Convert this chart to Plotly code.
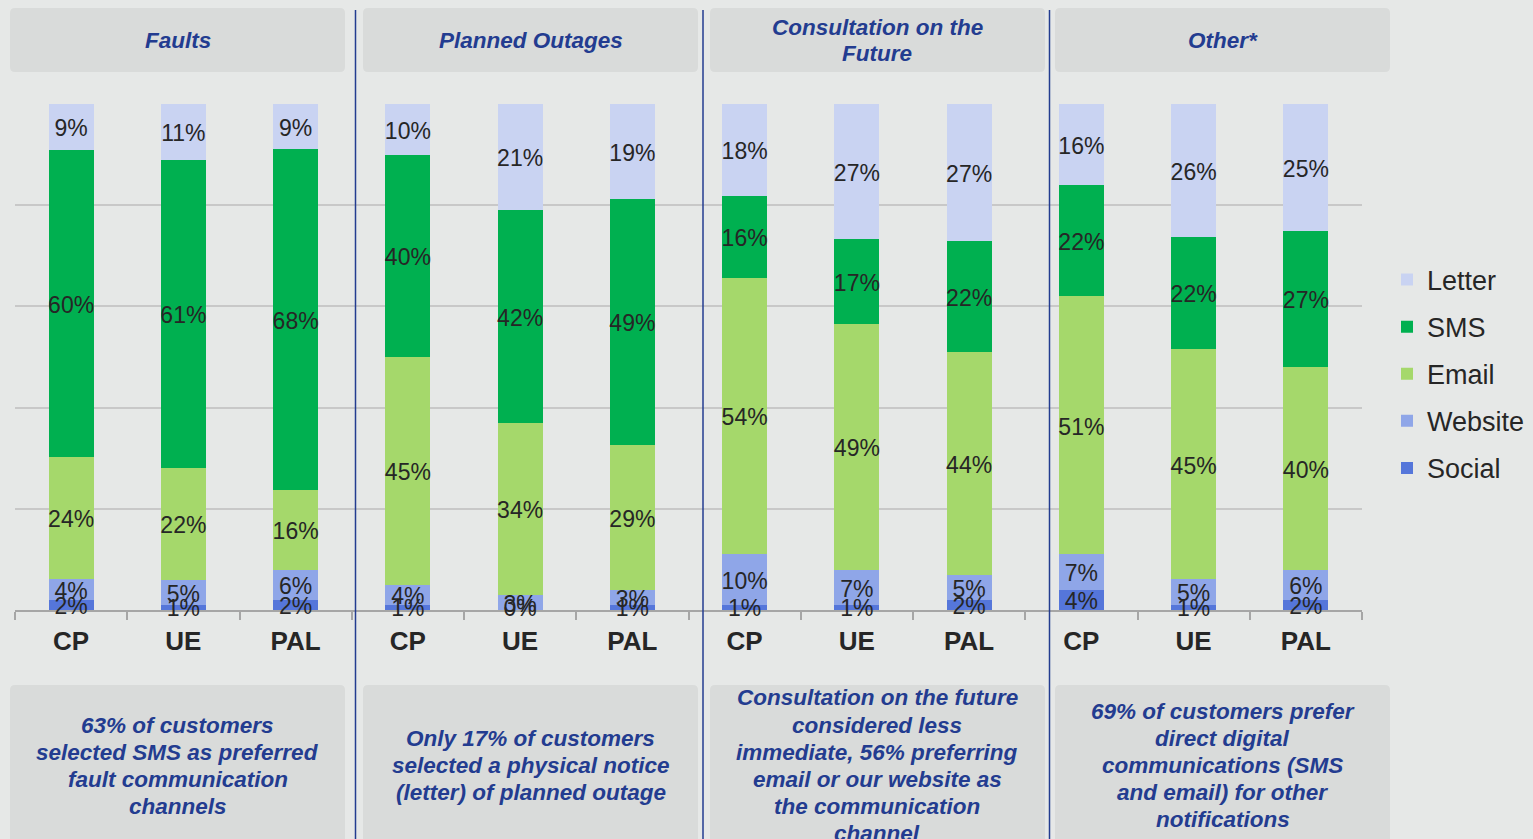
import numpy as np
import plotly.graph_objects as go

# ---------------- data ----------------
categories = ["CP", "UE", "PAL", "CP", "UE", "PAL", "CP", "UE", "PAL", "CP", "UE", "PAL"]
group_titles = [["Faults"], ["Planned Outages"], ["Consultation on the", "Future"], ["Other*"]]
social  = [2, 1, 2, 1, 0, 1, 1, 1, 2, 4, 1, 2]
website = [4, 5, 6, 4, 3, 3, 10, 7, 5, 7, 5, 6]
email   = [24, 22, 16, 45, 34, 29, 54, 49, 44, 51, 45, 40]
sms     = [60, 61, 68, 40, 42, 49, 16, 17, 22, 22, 22, 27]
letter  = [9, 11, 9, 10, 21, 19, 18, 27, 27, 16, 26, 25]
notes = [
    ["63% of customers", "selected SMS as preferred", "fault communication", "channels"],
    ["Only 17% of customers", "selected a physical notice", "(letter) of planned outage"],
    ["Consultation on the future", "considered less", "immediate, 56% preferring",
     "email or our website as", "the communication", "channel"],
    ["69% of customers prefer", "direct digital", "communications (SMS",
     "and email) for other", "notifications"],
]

series = [("Social", social, "#5576da"), ("Website", website, "#8fa6e8"),
          ("Email", email, "#a5d86b"), ("SMS", sms, "#00b050"),
          ("Letter", letter, "#c9d3f2")]

BG = "#e6e8e7"
BOX = "#d9dbda"
NAVY = "#233c90"
TXT = "#262626"
FONT = "Liberation Sans, Arial, sans-serif"

W, H = 1533, 839
PL, PR, PT, PB = 15, 1362, 104, 610

def px(x):
    return (x - PL) / (PR - PL)

def py(y):
    return (PB - y) / (PB - PT)

xs = list(range(len(categories)))
fig = go.Figure()

n = len(series)
for k, (name, vals, col) in enumerate(series):
    fig.add_trace(go.Bar(
        x=xs, y=vals, name=name, marker=dict(color=col, line=dict(width=0)),
        width=0.4, legendgroup=name, legendrank=n - k, hoverinfo="skip"))

# data labels, centred in each (normalised) segment
arr = np.array([s[1] for s in series], dtype=float)
tot = arr.sum(axis=0)
cum = np.cumsum(arr, axis=0)
mids = (cum - arr / 2) / tot * 100
LABEL_SHIFT = -0.7  # small optical offset so glyphs sit centred like the original
lx, ly, lt = [], [], []
for k in range(arr.shape[0]):
    for i in xs:
        lx.append(i)
        ly.append(max(mids[k, i] + LABEL_SHIFT, 0.0))
        lt.append(f"{int(arr[k, i])}%")
fig.add_trace(go.Scatter(
    x=lx, y=ly, text=lt, mode="text", textposition="middle center",
    textfont=dict(family=FONT, size=23, color=TXT), showlegend=False,
    hoverinfo="skip", cliponaxis=False))

shapes = []

def rrect(x0, x1, top, bot, r=5):
    a0, a1 = px(x0), px(x1)
    yt, yb = py(top), py(bot)
    rx, ry = r / (PR - PL), r / (PB - PT)
    path = (f"M{a0+rx},{yt} L{a1-rx},{yt} Q{a1},{yt} {a1},{yt-ry} "
            f"L{a1},{yb+ry} Q{a1},{yb} {a1-rx},{yb} L{a0+rx},{yb} "
            f"Q{a0},{yb} {a0},{yb+ry} L{a0},{yt-ry} Q{a0},{yt} {a0+rx},{yt} Z")
    return dict(type="path", path=path, xref="paper", yref="paper",
                fillcolor=BOX, line=dict(width=0), layer="below")

box_x = [(10, 345), (363, 698), (710, 1045), (1055, 1390)]
annotations = []
LINE = 27
BOXFONT = dict(family=FONT, size=22.5, color=NAVY, weight="bold", style="italic")

def block(lines, cx, cy):
    m = len(lines)
    for j, t in enumerate(lines):
        yy = cy + (j - (m - 1) / 2) * LINE
        annotations.append(dict(x=cx, y=py(yy), xref="paper", yref="paper", text=t,
                                showarrow=False, xanchor="center", yanchor="middle",
                                font=BOXFONT))

for (x0, x1), title, note in zip(box_x, group_titles, notes):
    shapes.append(rrect(x0, x1, 8, 72))
    shapes.append(rrect(x0, x1, 685, 845))
    cx = px((x0 + x1) / 2)
    block(title, cx, 40.5)
    block(note, cx, 765.5)

for sx in [355.5, 703, 1049.5]:
    shapes.append(dict(type="line", xref="paper", yref="paper", x0=px(sx), x1=px(sx),
                       y0=py(10), y1=py(845), line=dict(color=NAVY, width=1.5)))

fig.update_layout(
    width=W, height=H, autosize=False,
    margin=dict(l=PL, r=W - PR, t=PT, b=H - PB, autoexpand=False),
    paper_bgcolor=BG, plot_bgcolor=BG,
    barmode="stack", barnorm="percent",
    shapes=shapes, annotations=annotations,
    legend=dict(x=px(1387), y=py(374), xanchor="left", yanchor="middle",
                traceorder="grouped", tracegroupgap=9,
                font=dict(family=FONT, size=27, color=TXT),
                bgcolor="rgba(0,0,0,0)"),
    xaxis=dict(range=[-0.5, 11.5], tickmode="array", tickvals=xs, ticktext=categories,
               ticks="outside", ticklen=7, tickcolor="rgba(0,0,0,0)",
               tickfont=dict(family=FONT, size=26, color=TXT, weight="bold"),
               showline=True, linecolor="#a6a6a6", linewidth=2, showgrid=False,
               zeroline=False, layer="below traces",
               minor=dict(tickmode="array", tickvals=[i - 0.5 for i in range(13)],
                          ticks="outside", ticklen=8, tickcolor="#a6a6a6", tickwidth=2,
                          showgrid=False)),
    yaxis=dict(range=[0, 100], tickmode="linear", tick0=0, dtick=20,
               showticklabels=False, showgrid=True, gridcolor="#c8c8c8", gridwidth=2,
               zeroline=False, showline=False, layer="below traces"),
    showlegend=True,
)

fig.write_html(
    "out.html",
    config={"responsive": False, "displayModeBar": False},
    post_script=(
        "document.body.style.margin='0';"
        "document.body.style.padding='0';"
        "document.body.style.background='#e6e8e7';"
        "document.body.style.overflow='hidden';"
        "document.documentElement.style.overflow='hidden';"
    ),
)
